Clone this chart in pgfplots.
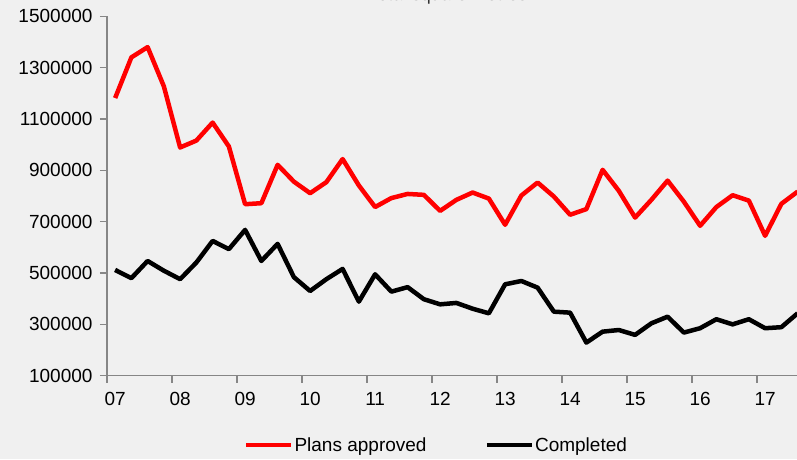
\documentclass[border=0pt]{standalone}
\usepackage{fontspec}
\setmainfont{Liberation Sans}
\usepackage{pgfplots}
\pgfplotsset{compat=1.18}
\definecolor{bg}{HTML}{F0F0F0}
\definecolor{axgray}{HTML}{868686}
\pgfplotstableread{
i plans completed
0 1181600 512000
1 1340000 480000
2 1380000 547000
3 1227000 509000
4 989000 476000
5 1016000 541000
6 1086000 625000
7 993000 593000
8 768000 668000
9 772000 547000
10 921500 613500
11 856000 484000
12 811000 430000
13 854000 476000
14 944000 516000
15 841000 388500
16 757000 495000
17 792000 427500
18 808000 445000
19 804500 398000
20 742000 378000
21 785000 383500
22 813500 361000
23 790000 343000
24 688000 456000
25 802000 469000
26 852500 443000
27 798000 349500
28 727000 345600
29 749000 229000
30 902000 271600
31 820000 278000
32 716000 259000
33 785000 304000
34 860000 330000
35 778000 268000
36 684000 285000
37 757000 320000
38 803000 300000
39 782000 320000
40 645000 285000
41 769500 289000
42 817000 343000
}\datatable
\begin{document}
\begin{tikzpicture}
\useasboundingbox (-107pt,-83.3pt) rectangle (690pt,375.7pt);
\fill[bg] (-107pt,-83.3pt) rectangle (690pt,375.7pt);
\node[anchor=base, font=\fontsize{18}{21}\selectfont, text=black!80] at (341pt,375.4pt) {Total square metres};
\begin{axis}[
  at={(0,0)}, anchor=south west,
  scale only axis, width=690.6pt, height=359.4pt,
  xmin=-0.5, xmax=42, ymin=100000, ymax=1500000,
  axis x line=bottom, axis y line=left,
  axis line style={axgray, line width=1.2pt, -},
  tick align=outside, major tick length=7pt, minor tick length=7pt,
  tick style={axgray, line width=1.2pt},
  xtick={0,4,...,40},
  xticklabels={07,08,09,10,11,12,13,14,15,16,17},
  major x tick style={draw=none},
  minor xtick={-0.5,3.5,...,39.5},
  ytick={100000,300000,500000,700000,900000,1100000,1300000,1500000},
  yticklabels={100000,300000,500000,700000,900000,1100000,1300000,1500000},
  scaled y ticks=false,
  tick label style={font=\fontsize{19}{22}\selectfont, black},
  yticklabel style={xshift=-4pt},
  xticklabel style={yshift=-6pt},
  legend columns=2,
  legend style={at={(0.4764,-0.1928)}, anchor=center, draw=none, fill=none,
    font=\fontsize{19}{22}\selectfont,
    /tikz/every even column/.append style={column sep=57pt},
    nodes={inner sep=1pt}},
  legend image code/.code={\draw[#1] (0pt,0pt) -- (45pt,0pt);},
  clip=false,
]
\addplot[red, line width=4.5pt, line join=round] table[x=i, y=plans] {\datatable};
\addlegendentry{Plans approved}
\addplot[black, line width=4.5pt, line join=round] table[x=i, y=completed] {\datatable};
\addlegendentry{Completed}
\end{axis}
\end{tikzpicture}
\end{document}
